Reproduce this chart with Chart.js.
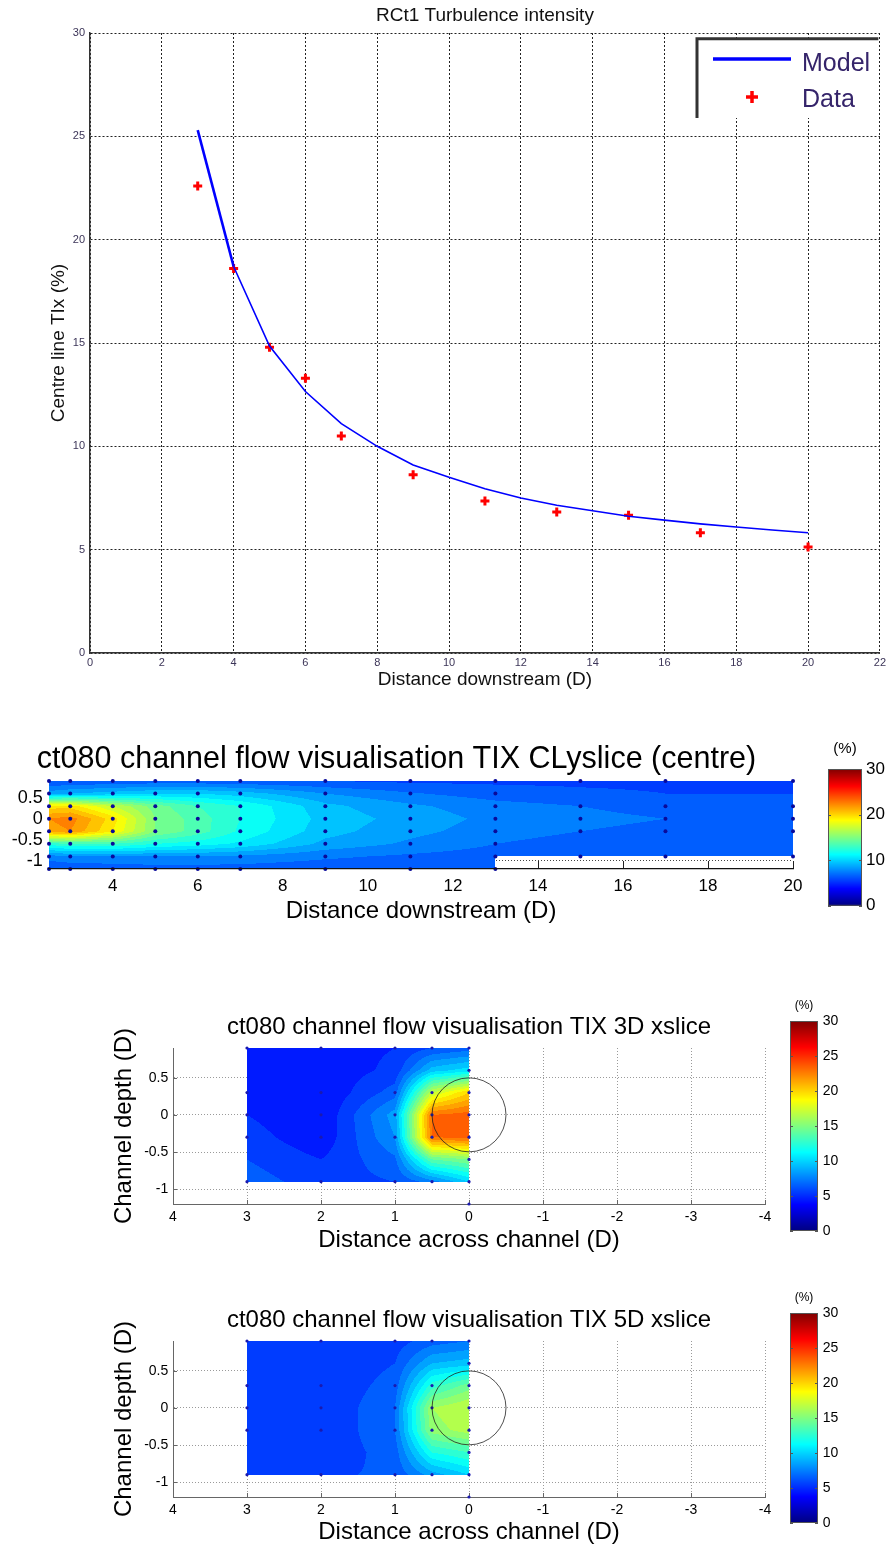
<!DOCTYPE html>
<html>
<head>
<meta charset="utf-8">
<script src="https://cdn.jsdelivr.net/npm/chart.js@4.4.0/dist/chart.umd.min.js"></script>
<style>
  html, body { margin: 0; padding: 0; background: #fff; width: 889px; height: 1547px; overflow: hidden; position: relative; }
  canvas { position: absolute; }
</style>
</head>
<body>
<canvas id="tiChart" width="889" height="700" style="left:0;top:0"></canvas>
<canvas id="clChart" width="810" height="205" style="left:0;top:730px"></canvas>
<canvas id="clBar" width="74" height="185" style="left:815px;top:735px"></canvas>
<canvas id="x3Chart" width="738" height="265" style="left:100px;top:995px"></canvas>
<canvas id="x3Bar" width="114" height="255" style="left:775px;top:990px"></canvas>
<canvas id="x5Chart" width="738" height="259" style="left:100px;top:1288px"></canvas>
<canvas id="x5Bar" width="114" height="255" style="left:775px;top:1282px"></canvas>
<script>
// ---- centre line turbulence intensity (top plot)
const modelX = [3, 4, 5, 6, 7, 8, 9, 10, 11, 12, 13, 14, 15, 16, 17, 18, 19, 20];
const modelTI = [25.3, 18.7, 14.85, 12.65, 11.1, 10.0, 9.1, 8.5, 7.95, 7.5, 7.15, 6.88, 6.62, 6.43, 6.25, 6.1, 5.95, 5.82];
const dataX = [3, 4, 5, 6, 7, 9, 11, 13, 15, 17, 20];
const dataTI = [22.6, 18.6, 14.8, 13.3, 10.5, 8.62, 7.36, 6.82, 6.67, 5.82, 5.13];
const tiXTicks = [0, 2, 4, 6, 8, 10, 12, 14, 16, 18, 20, 22];
const tiYTicks = [0, 5, 10, 15, 20, 25, 30];

// ---- CL y-slice (centre): columns = distance downstream, rows = depth
const clCols = [2.5, 3, 4, 5, 6, 7, 9, 11, 13, 15, 17, 20];
const clRows = [0.9, 0.6, 0.3, 0, -0.3, -0.6, -0.9, -1.2];
const clTI = [
  [6, 6, 6.2, 6.3, 6.3, 6.2, 6, 5.8, 5.8, 5.8, 5.8, 5.8],
  [8.5, 9, 9.5, 10, 10, 9.5, 8, 7.1, 6.5, 6.2, 6, 6],
  [19.5, 19.5, 17, 14.5, 13, 12, 9.3, 8.2, 7.4, 7, 6.6, 6.4],
  [22, 22.5, 19.5, 15, 13.5, 12, 9.6, 8.6, 7.7, 7.3, 7, 6.8],
  [21.5, 22, 19, 15, 13.5, 11.8, 9.4, 8.3, 7.5, 7, 6.7, 6.5],
  [12.5, 13, 13, 12, 11.5, 10.8, 8.7, 7.8, 7, 6.5, 6.2, 6],
  [7.5, 8, 8, 8, 8, 7.8, 7.2, 6.8, 6.5, 6.1, 6, 6],
  [6, 6, 6.3, 6.5, 6.5, 6.5, 6.3, 6.2, 6, null, null, null]
];
const fullDepths = [0.9, 0.6, 0.3, 0, -0.3, -0.6, -0.9, -1.2];
const shortDepths = [0.9, 0.3, 0, -0.3, -0.9];
const clProbeDepths = [fullDepths, fullDepths, fullDepths, fullDepths, fullDepths, fullDepths,
  fullDepths, fullDepths, fullDepths, shortDepths, shortDepths, shortDepths];
const clXTicks = [4, 6, 8, 10, 12, 14, 16, 18, 20];
const clYTicks = [-1, -0.5, 0, 0.5];

// ---- x-slices at 3D and 5D: columns = distance across, rows = depth
const xsCols = [3, 2, 1, 0.5, 0];
const xsRows = [0.9, 0.6, 0.3, 0, -0.3, -0.6, -0.9];
const ti3D = [
  [5, 4.5, 5, 6, 6.5],
  [5, 4.2, 5.3, 9.5, 10.5],
  [5, 4, 6.5, 17, 20],
  [5, 4, 8.5, 23, 23.5],
  [5.5, 4.2, 8, 23, 23.5],
  [6, 5, 6.8, 14, 15],
  [6.5, 5.5, 6, 7.5, 10]
];
const ti5D = [
  [5.5, 5, 5.5, 6.5, 7],
  [5.5, 5, 6, 9, 9.5],
  [5.2, 5, 6.5, 12.5, 14.5],
  [5, 5, 7, 16, 17],
  [5, 5, 7, 15.5, 16.5],
  [5.5, 5.2, 6.5, 12, 13],
  [6, 5.8, 6.2, 8.5, 10]
];
const xsProbeDepths = [shortDepths, shortDepths, shortDepths, shortDepths,
  [0.9, 0.6, 0.3, 0, -0.3, -0.6, -0.9, -1.2]];
const xsXTicks = [-4, -3, -2, -1, 0, 1, 2, 3, 4];
const xsYTicks = [-1, -0.5, 0, 0.5];
const rotorRadius = 0.5;

const barTicksCL = [0, 10, 20, 30];
const barTicksXS = [0, 5, 10, 15, 20, 25, 30];
const tiMax = 30;

Chart.defaults.font.family = '"Liberation Sans", Arial, sans-serif';
Chart.defaults.color = '#000';

function jet(t) {
  t = Math.max(0, Math.min(1, t));
  const f = k => Math.max(0, Math.min(1, 1.5 - Math.abs(4 * t - k)));
  return [Math.round(f(3) * 255), Math.round(f(2) * 255), Math.round(f(1) * 255)];
}

function bracket(arr, v) {
  for (let i = 0; i < arr.length - 1; i++) {
    const a = arr[i], b = arr[i + 1];
    if (v >= Math.min(a, b) && v <= Math.max(a, b)) return { i, t: (v - a) / (b - a) };
  }
  return null;
}

function fieldValue(f, X, Y) {
  const c = bracket(f.cols, X), r = bracket(f.rows, Y);
  if (!c || !r) return null;
  const v = f.values;
  const a = v[r.i][c.i], b = v[r.i][c.i + 1], d = v[r.i + 1][c.i], e = v[r.i + 1][c.i + 1];
  if (a === null || b === null || d === null || e === null) return null;
  return (a * (1 - c.t) + b * c.t) * (1 - r.t) + (d * (1 - c.t) + e * c.t) * r.t;
}

const fields = {
  clChart: { cols: clCols, rows: clRows, values: clTI, tick: 8, tickColor: '#222', leftTicks: false },
  x3Chart: { cols: xsCols, rows: xsRows, values: ti3D, tick: 4, tickColor: '#666', leftTicks: true, rotor: true },
  x5Chart: { cols: xsCols, rows: xsRows, values: ti5D, tick: 4, tickColor: '#666', leftTicks: true, rotor: true }
};

// paints the contour field under the probe points
const fieldPlugin = {
  id: 'tiField',
  beforeDatasetsDraw(chart) {
    const f = fields[chart.canvas.id];
    if (!f) return;
    const { ctx, chartArea: a } = chart;
    const sx = chart.scales.x, sy = chart.scales.y;

    ctx.save();
    ctx.strokeStyle = f.tickColor;
    ctx.lineWidth = 1;
    ctx.beginPath();
    sx.ticks.forEach(t => {
      const p = Math.round(sx.getPixelForValue(t.value)) + 0.5;
      ctx.moveTo(p, a.bottom); ctx.lineTo(p, a.bottom - f.tick);
    });
    if (f.leftTicks) {
      sy.ticks.forEach(t => {
        const p = Math.round(sy.getPixelForValue(t.value)) + 0.5;
        ctx.moveTo(a.left, p); ctx.lineTo(a.left + f.tick, p);
      });
    }
    ctx.stroke();
    ctx.restore();

    const px = f.cols.map(v => sx.getPixelForValue(v));
    const py = f.rows.map(v => sy.getPixelForValue(v));
    const left = Math.round(Math.min(...px)), right = Math.round(Math.max(...px));
    const top = Math.round(Math.min(...py)), bottom = Math.round(Math.max(...py));
    const w = right - left, h = bottom - top;
    const off = document.createElement('canvas');
    off.width = w; off.height = h;
    const octx = off.getContext('2d');
    const img = octx.createImageData(w, h);
    for (let j = 0; j < h; j++) {
      const Y = sy.getValueForPixel(top + j + 0.5);
      for (let i = 0; i < w; i++) {
        const X = sx.getValueForPixel(left + i + 0.5);
        const v = fieldValue(f, X, Y);
        if (v === null) continue;
        const c = jet((Math.floor(v) + 0.5) / tiMax);
        const k = (j * w + i) * 4;
        img.data[k] = c[0]; img.data[k + 1] = c[1]; img.data[k + 2] = c[2]; img.data[k + 3] = 255;
      }
    }
    octx.putImageData(img, 0, 0);
    ctx.drawImage(off, left, top);
  },
  afterDatasetsDraw(chart) {
    const f = fields[chart.canvas.id];
    if (!f || !f.rotor) return;
    const { ctx } = chart;
    const sx = chart.scales.x, sy = chart.scales.y;
    const cx = sx.getPixelForValue(0), cy = sy.getPixelForValue(0);
    const r = Math.abs(sx.getPixelForValue(rotorRadius) - cx);
    ctx.save();
    ctx.strokeStyle = '#222';
    ctx.lineWidth = 0.8;
    ctx.beginPath();
    ctx.arc(cx, cy, r, 0, Math.PI * 2);
    ctx.stroke();
    ctx.restore();
  }
};

// jet colour scale drawn inside the chart area of a bar chart
const barPlugin = {
  id: 'tiBar',
  beforeDatasetsDraw(chart) {
    const { ctx, chartArea: a } = chart;
    const sy = chart.scales.y;
    ctx.save();
    for (let y = Math.floor(a.top); y < Math.ceil(a.bottom); y++) {
      const c = jet(sy.getValueForPixel(y + 0.5) / tiMax);
      ctx.fillStyle = `rgb(${c[0]},${c[1]},${c[2]})`;
      ctx.fillRect(a.left, y, a.right - a.left, 1);
    }
    ctx.strokeStyle = '#555';
    ctx.lineWidth = 1;
    ctx.strokeRect(a.left + 0.5, a.top + 0.5, a.right - a.left - 1, a.bottom - a.top - 1);
    ctx.beginPath();
    sy.ticks.forEach(t => {
      const p = Math.round(sy.getPixelForValue(t.value)) + 0.5;
      ctx.moveTo(a.left, p); ctx.lineTo(a.left + 3, p);
      ctx.moveTo(a.right, p); ctx.lineTo(a.right - 3, p);
    });
    ctx.stroke();
    ctx.restore();
  }
};

// MATLAB style legend box in the top right corner
const legendPlugin = {
  id: 'tiLegend',
  afterDatasetsDraw(chart) {
    const { ctx, chartArea: a } = chart;
    const left = a.left + 607, top = a.top + 5.7, right = a.right - 1.5, bottom = a.top + 85;
    const model = chart.data.datasets[0], data = chart.data.datasets[1];
    ctx.save();
    ctx.fillStyle = '#fff';
    ctx.fillRect(left, top, right - left, bottom - top);
    ctx.strokeStyle = '#333';
    ctx.lineWidth = 3;
    ctx.beginPath();
    ctx.moveTo(left, bottom); ctx.lineTo(left, top); ctx.lineTo(right, top);
    ctx.stroke();

    ctx.strokeStyle = model.borderColor;
    ctx.lineWidth = 3.5;
    ctx.beginPath();
    ctx.moveTo(left + 16, top + 20.3); ctx.lineTo(left + 94, top + 20.3);
    ctx.stroke();

    ctx.strokeStyle = data.pointBorderColor;
    ctx.lineWidth = 3.5;
    const mx = left + 55, my = top + 58.3;
    ctx.beginPath();
    ctx.moveTo(mx - 6, my); ctx.lineTo(mx + 6, my);
    ctx.moveTo(mx, my - 6); ctx.lineTo(mx, my + 6);
    ctx.stroke();

    ctx.fillStyle = '#35246a';
    ctx.font = '25px "Liberation Sans", Arial, sans-serif';
    ctx.textBaseline = 'alphabetic';
    ctx.fillText(model.label, left + 105, top + 32);
    ctx.fillText(data.label, left + 105, top + 68.6);
    ctx.restore();
  }
};

const setTicks = list => scale => { scale.ticks = list.map(v => ({ value: v })); };
const plainLabel = v => String(v);
const tickInk = '#3c3558';

new Chart(document.getElementById('tiChart'), {
  type: 'scatter',
  data: {
    datasets: [{
      label: 'Model',
      data: modelX.map((x, i) => ({ x, y: modelTI[i] })),
      showLine: true,
      borderColor: '#0000ff',
      borderWidth: 1.6,
      pointRadius: 0,
      segment: { borderWidth: c => c.p0DataIndex === 0 ? 2.6 : 1.6 }
    }, {
      label: 'Data',
      data: dataX.map((x, i) => ({ x, y: dataTI[i] })),
      showLine: false,
      pointStyle: 'cross',
      pointRadius: 4.5,
      pointBorderWidth: 3,
      pointBorderColor: '#ff0000',
      pointBackgroundColor: '#ff0000'
    }]
  },
  options: {
    responsive: false,
    animation: false,
    events: [],
    layout: { padding: { left: 0, right: 8, top: 0, bottom: 0 } },
    plugins: {
      legend: { display: false },
      tooltip: { enabled: false },
      title: {
        display: true, fullSize: false, text: 'RCt1 Turbulence intensity', color: '#111',
        font: { size: 19, weight: 'normal' }, padding: { top: 4.6, bottom: 5.6 }
      }
    },
    scales: {
      x: {
        type: 'linear', min: 0, max: 22,
        afterBuildTicks: setTicks(tiXTicks),
        afterFit: s => { s.height = 47; },
        grid: { color: '#222', lineWidth: 1, drawTicks: false },
        border: { color: '#333', width: 1.5, dash: [2, 2] },
        ticks: { padding: 3, color: tickInk, font: { size: 11 }, maxRotation: 0, autoSkip: false, callback: plainLabel },
        title: { display: true, text: 'Distance downstream (D)', color: '#111', font: { size: 19 }, padding: { top: 0, bottom: 8.6 } }
      },
      y: {
        type: 'linear', min: 0, max: 30,
        afterBuildTicks: setTicks(tiYTicks),
        afterFit: s => { s.width = 90; },
        grid: { color: '#222', lineWidth: 1, drawTicks: false },
        border: { color: '#333', width: 1.5, dash: [2, 2] },
        ticks: { padding: 5, color: tickInk, font: { size: 11 }, autoSkip: false, callback: plainLabel },
        title: { display: true, text: 'Centre line TIx (%)', color: '#111', font: { size: 19 }, padding: { top: 47.6, bottom: 0 } }
      }
    }
  },
  plugins: [legendPlugin]
});

const probePoints = (cols, depths) => cols.flatMap((x, i) => depths[i].map(y => ({ x, y })));

new Chart(document.getElementById('clChart'), {
  type: 'scatter',
  data: {
    datasets: [{
      label: 'probe',
      data: probePoints(clCols, clProbeDepths),
      pointRadius: 2,
      pointBorderWidth: 0,
      pointBackgroundColor: '#0a0a9a',
      clip: false
    }]
  },
  options: {
    responsive: false,
    animation: false,
    events: [],
    layout: { padding: { left: 0, right: 17, top: 0, bottom: 0 } },
    plugins: {
      legend: { display: false },
      tooltip: { enabled: false },
      title: {
        display: true, fullSize: true, text: 'ct080 channel flow visualisation TIX CLyslice (centre)', color: '#000',
        font: { size: 30.5, weight: 'normal' }, padding: { top: 11.7, bottom: 2.7 }
      }
    },
    scales: {
      x: {
        type: 'linear', min: 2.5, max: 20,
        afterBuildTicks: setTicks(clXTicks),
        afterFit: s => { s.height = 66; },
        grid: { display: false, drawTicks: false },
        border: { color: '#111', width: 1.3, z: 1 },
        ticks: { padding: 6.8, font: { size: 17 }, maxRotation: 0, autoSkip: false, callback: plainLabel },
        title: { display: true, text: 'Distance downstream (D)', font: { size: 24 }, padding: { top: 0, bottom: 9.6 } }
      },
      y: {
        type: 'linear', min: -1.2, max: 0.9,
        afterBuildTicks: setTicks(clYTicks),
        afterFit: s => { s.width = 49; },
        grid: { color: '#444', lineWidth: 1, drawTicks: false },
        border: { display: false, dash: [1, 2] },
        ticks: { padding: 6.3, font: { size: 18 }, autoSkip: false, callback: plainLabel }
      }
    }
  },
  plugins: [fieldPlugin]
});

function sliceChart(id, titleText, xAxisHeight, xTitleBottom) {
  return new Chart(document.getElementById(id), {
    type: 'scatter',
    data: {
      datasets: [{
        label: 'probe',
        data: probePoints(xsCols, xsProbeDepths),
        pointRadius: 1.6,
        pointBorderWidth: 0,
        pointBackgroundColor: '#1a1ab0',
        clip: false
      }]
    },
    options: {
      responsive: false,
      animation: false,
      events: [],
      layout: { padding: { left: 0, right: 73, top: 0, bottom: 0 } },
      plugins: {
        legend: { display: false },
        tooltip: { enabled: false },
        title: {
          display: true, fullSize: false, text: titleText, color: '#000',
          font: { size: 24, weight: 'normal' }, padding: { top: 17.6, bottom: 6.6 }
        }
      },
      scales: {
        x: {
          type: 'linear', min: -4, max: 4, reverse: true,
          afterBuildTicks: setTicks(xsXTicks),
          afterFit: s => { s.height = xAxisHeight; },
          grid: { color: '#9a9a9a', lineWidth: 1, drawTicks: false },
          border: { color: '#666', width: 1, dash: [1, 2] },
          ticks: { padding: 4.3, font: { size: 14 }, maxRotation: 0, autoSkip: false, callback: plainLabel },
          title: { display: true, text: 'Distance across channel (D)', font: { size: 24 }, padding: { top: 0, bottom: xTitleBottom } }
        },
        y: {
          type: 'linear', min: -1.2, max: 0.9,
          afterBuildTicks: setTicks(xsYTicks),
          afterFit: s => { s.width = 73; },
          grid: { color: '#9a9a9a', lineWidth: 1, drawTicks: false },
          border: { color: '#666', width: 1, dash: [1, 2] },
          ticks: { padding: 4.7, font: { size: 14 }, autoSkip: false, callback: plainLabel },
          title: { display: true, text: 'Channel depth (D)', font: { size: 24 }, padding: { top: 9.6, bottom: 0 } }
        }
      }
    },
    plugins: [fieldPlugin]
  });
}

function colourBar(id, ticks, padLeft, axisWidth, tickSize, tickPad, titleSize, titlePad, padBottom) {
  return new Chart(document.getElementById(id), {
    type: 'scatter',
    data: { datasets: [] },
    options: {
      responsive: false,
      animation: false,
      events: [],
      layout: { padding: { left: padLeft, right: 0, top: 0, bottom: padBottom } },
      plugins: {
        legend: { display: false },
        tooltip: { enabled: false },
        title: { display: true, fullSize: false, text: '(%)', color: '#000', font: { size: titleSize, weight: 'normal' }, padding: titlePad }
      },
      scales: {
        x: { display: false, min: 0, max: 1 },
        y: {
          type: 'linear', position: 'right', min: 0, max: tiMax,
          afterBuildTicks: setTicks(ticks),
          afterFit: s => { s.width = axisWidth; },
          grid: { display: false, drawTicks: false },
          border: { display: false },
          ticks: { padding: tickPad, font: { size: tickSize }, autoSkip: false, callback: plainLabel }
        }
      }
    },
    plugins: [barPlugin]
  });
}

sliceChart('x3Chart', 'ct080 channel flow visualisation TIX 3D xslice', 56, 5.6);
sliceChart('x5Chart', 'ct080 channel flow visualisation TIX 5D xslice', 50, 0.6);
colourBar('clBar', barTicksCL, 13, 27, 17, 4, 15, { top: 4.6, bottom: 11.4 }, 12);
colourBar('x3Bar', barTicksXS, 15, 71, 14, 4.7, 12, { top: 8.8, bottom: 7.8 }, 14);
colourBar('x5Bar', barTicksXS, 15, 71, 14, 4.7, 12, { top: 8.8, bottom: 7.8 }, 14);
</script>
</body>
</html>
